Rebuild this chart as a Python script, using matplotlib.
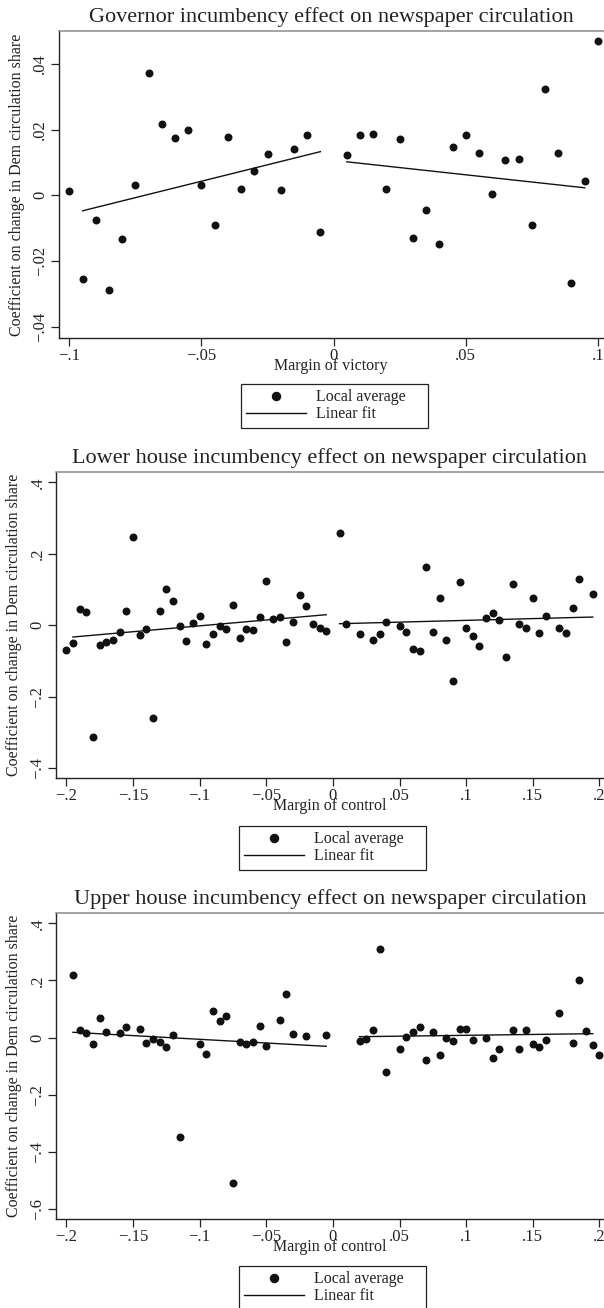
import matplotlib.pyplot as plt
from matplotlib.ticker import FuncFormatter, FixedLocator
from matplotlib.lines import Line2D

W, H = 604, 1308
plt.rcParams['font.family'] = ['Liberation Serif', 'DejaVu Serif']
plt.rcParams['axes.unicode_minus'] = True

# ---------- Governor ----------
gov_left_x = [-0.1, -0.095, -0.09, -0.085, -0.08, -0.075, -0.07, -0.065, -0.06, -0.055,
              -0.05, -0.045, -0.04, -0.035, -0.03, -0.025, -0.02, -0.015, -0.01, -0.005]
gov_left_y = [0.0014, -0.0255, -0.0075, -0.0289, -0.0132, 0.0033, 0.0373, 0.0216, 0.0173, 0.0200,
              0.0033, -0.0091, 0.0179, 0.0020, 0.0073, 0.0125, 0.0017, 0.0142, 0.0185, -0.0110]
gov_right_x = [0.005, 0.01, 0.015, 0.02, 0.025, 0.03, 0.035, 0.04, 0.045, 0.05,
               0.055, 0.06, 0.065, 0.07, 0.075, 0.08, 0.085, 0.09, 0.095, 0.1]
gov_right_y = [0.0124, 0.0183, 0.0187, 0.0019, 0.0170, -0.0129, -0.0044, -0.0147, 0.0147, 0.0183,
               0.0130, 0.0005, 0.0109, 0.0110, -0.0089, 0.0323, 0.0130, -0.0268, 0.0045, 0.0471]
gov_fit_left_x = [-0.095, -0.005]
gov_fit_left_y = [-0.0047, 0.0133]
gov_fit_right_x = [0.005, 0.095]
gov_fit_right_y = [0.0102, 0.0023]

# ---------- Lower house ----------
low_left_x = [-0.2, -0.195, -0.19, -0.185, -0.18, -0.175, -0.17, -0.165, -0.16, -0.155,
              -0.15, -0.145, -0.14, -0.135, -0.13, -0.125, -0.12, -0.115, -0.11, -0.105,
              -0.1, -0.095, -0.09, -0.085, -0.08, -0.075, -0.07, -0.065, -0.06, -0.055,
              -0.05, -0.045, -0.04, -0.035, -0.03, -0.025, -0.02, -0.015, -0.01, -0.005]
low_left_y = [-0.0682, -0.0486, 0.0456, 0.0363, -0.3133, -0.0551, -0.0458, -0.0411, -0.0187, 0.0400,
              0.2470, -0.0280, -0.0103, -0.2601, 0.0400, 0.1007, 0.0680, -0.0010, -0.0439, 0.0064,
              0.0270, -0.0532, -0.0252, -0.0010, -0.0103, 0.0568, -0.0355, -0.0103, -0.0131, 0.0224,
              0.1231, 0.0168, 0.0241, -0.0458, 0.0101, 0.0856, 0.0548, 0.0028, -0.0066, -0.0150]
low_right_x = [0.005, 0.01, 0.02, 0.03, 0.035, 0.04, 0.05, 0.055, 0.06, 0.065,
               0.07, 0.075, 0.08, 0.085, 0.09, 0.095, 0.1, 0.105, 0.11, 0.115,
               0.12, 0.125, 0.13, 0.135, 0.14, 0.145, 0.15, 0.155, 0.16, 0.17,
               0.175, 0.18, 0.185, 0.195]
low_right_y = [0.2573, 0.0036, -0.0243, -0.0411, -0.0243, 0.0092, -0.0010, -0.0187, -0.0671, -0.0727,
               0.1639, -0.0196, 0.0755, -0.0420, -0.1558, 0.1211, -0.0066, -0.0290, -0.0587, 0.0196,
               0.0344, 0.0148, -0.0878, 0.1147, 0.0045, -0.0076, 0.0755, -0.0206, 0.0270, -0.0066,
               -0.0215, 0.0475, 0.1295, 0.0875]
low_fit_left_x = [-0.195, -0.005]
low_fit_left_y = [-0.0327, 0.0297]
low_fit_right_x = [0.005, 0.195]
low_fit_right_y = [0.0045, 0.0232]

# ---------- Upper house ----------
up_left_x = [-0.195, -0.19, -0.185, -0.18, -0.175, -0.17, -0.16, -0.155, -0.145, -0.14,
             -0.135, -0.13, -0.125, -0.12, -0.115, -0.1, -0.095, -0.09, -0.085, -0.08,
             -0.075, -0.07, -0.065, -0.06, -0.055, -0.05, -0.04, -0.035, -0.03, -0.02,
             -0.005]
up_left_y = [0.2203, 0.0259, 0.0164, -0.0210, 0.0678, 0.0199, 0.0164, 0.0385, 0.0294, -0.0196,
             -0.0035, -0.0150, -0.0325, 0.0084, -0.3483, -0.0231, -0.0570, 0.0923, 0.0573, 0.0759,
             -0.5081, -0.0140, -0.0231, -0.0150, 0.0420, -0.0280, 0.0608, 0.1517, 0.0117, 0.0070,
             0.0082]
up_right_x = [0.02, 0.025, 0.03, 0.035, 0.04, 0.05, 0.055, 0.06, 0.065, 0.07,
              0.075, 0.08, 0.085, 0.09, 0.095, 0.1, 0.105, 0.115, 0.12, 0.125,
              0.135, 0.14, 0.145, 0.15, 0.155, 0.16, 0.17, 0.18, 0.185, 0.19,
              0.195, 0.2]
up_right_y = [-0.0115, -0.0047, 0.0257, 0.3113, -0.1200, -0.0408, 0.0012, 0.0199, 0.0362, -0.0781,
              0.0187, -0.0594, -0.0012, -0.0128, 0.0292, 0.0292, -0.0082, 0.0000, -0.0699, -0.0385,
              0.0268, -0.0408, 0.0268, -0.0233, -0.0327, -0.0082, 0.0852, -0.0187, 0.2029, 0.0245,
              -0.0245, -0.0594]
up_fit_left_x = [-0.195, -0.005]
up_fit_left_y = [0.0189, -0.0302]
up_fit_right_x = [0.02, 0.195]
up_fit_right_y = [0.0035, 0.0140]

gov_xticks = [-0.1, -0.05, 0, 0.05, 0.1]
gov_yticks = [-0.04, -0.02, 0, 0.02, 0.04]
house_xticks = [-0.2, -0.15, -0.1, -0.05, 0, 0.05, 0.1, 0.15, 0.2]
low_yticks = [-0.4, -0.2, 0, 0.2, 0.4]
up_yticks = [-0.6, -0.4, -0.2, 0, 0.2, 0.4]

YLABEL = "Coefficient on change in Dem circulation share"


def stata_fmt(v, pos=None):
    if abs(v) < 1e-12:
        return "0"
    s = f"{v:g}".replace("0.", ".")
    return s.replace("-", "\u2212")


def px_rect(l, t, r, b):
    return [l / W, 1 - b / H, (r - l) / W, (b - t) / H]


def panel(fig, box, title, xlabel, xlim, ylim, xticks, yticks,
          lx, ly, rx, ry, flx, fly, frx, fry, leg_box):
    ax = fig.add_axes(px_rect(*box))
    ax.scatter(lx, ly, s=33, color='#111111', linewidths=0, zorder=3)
    ax.scatter(rx, ry, s=33, color='#111111', linewidths=0, zorder=3)
    ax.plot(flx, fly, color='#111111', lw=1.0, zorder=2)
    ax.plot(frx, fry, color='#111111', lw=1.0, zorder=2)

    ax.set_xlim(*xlim)
    ax.set_ylim(*ylim)
    ax.xaxis.set_major_locator(FixedLocator(xticks))
    ax.yaxis.set_major_locator(FixedLocator(yticks))
    ax.xaxis.set_major_formatter(FuncFormatter(stata_fmt))
    ax.yaxis.set_major_formatter(FuncFormatter(stata_fmt))
    ax.tick_params(direction='out', length=5.5, width=0.9, color='#222222',
                   labelsize=12, pad=2, labelcolor='#222222')
    for lab in ax.get_yticklabels():
        lab.set_rotation(90)
        lab.set_va('center')

    ax.spines['right'].set_visible(False)
    ax.spines['top'].set_color('#8a8a8a')
    ax.spines['top'].set_linewidth(1.1)
    for side in ('left', 'bottom'):
        ax.spines[side].set_color('#222222')
        ax.spines[side].set_linewidth(1.0)

    ax.set_title(title, fontsize=16, pad=6.5, color='#222222')
    ax.set_xlabel(xlabel, fontsize=11.5, color='#222222', va='top')
    ax.xaxis.set_label_coords(0.5, -0.066)
    ax.set_ylabel(YLABEL, fontsize=11.5, color='#222222')
    ax.yaxis.set_label_coords(-0.062, 0.5)

    handles = [Line2D([], [], marker='o', ls='none', color='#111111', markersize=5.8),
               Line2D([], [], color='#111111', lw=1.0)]
    l, t, r, b = leg_box
    leg = ax.legend(handles, ["Local average", "Linear fit"],
                    loc='upper left', mode='expand',
                    bbox_to_anchor=(l / W, 1 - b / H, (r - l) / W, (b - t) / H),
                    bbox_transform=fig.transFigure, borderaxespad=0,
                    fontsize=11.5, handlelength=3.75, handletextpad=0.65,
                    borderpad=0.32, labelspacing=0.08, fancybox=False,
                    framealpha=1, edgecolor='#222222')
    leg.get_frame().set_linewidth(0.9)
    for txt in leg.get_texts():
        txt.set_color('#222222')
    return ax


fig = plt.figure(figsize=(W / 100, H / 100), dpi=100, facecolor='white')

panel(fig, (58.5, 31, 604, 338),
      "Governor incumbency effect on newspaper circulation", "Margin of victory",
      (-0.1041, 0.1023), (-0.0434, 0.0500), gov_xticks, gov_yticks,
      gov_left_x, gov_left_y, gov_right_x, gov_right_y,
      gov_fit_left_x, gov_fit_left_y, gov_fit_right_x, gov_fit_right_y,
      (241, 384, 428, 429))

panel(fig, (56, 472, 604, 778),
      "Lower house incumbency effect on newspaper circulation", "Margin of control",
      (-0.2077, 0.2034), (-0.427, 0.4288), house_xticks, low_yticks,
      low_left_x, low_left_y, low_right_x, low_right_y,
      low_fit_left_x, low_fit_left_y, low_fit_right_x, low_fit_right_y,
      (239, 826, 426, 870))

panel(fig, (56, 913, 604, 1219),
      "Upper house incumbency effect on newspaper circulation", "Margin of control",
      (-0.2077, 0.2034), (-0.634, 0.436), house_xticks, up_yticks,
      up_left_x, up_left_y, up_right_x, up_right_y,
      up_fit_left_x, up_fit_left_y, up_fit_right_x, up_fit_right_y,
      (239, 1266, 426, 1310))

fig.savefig("out.png", dpi=100, facecolor='white')
